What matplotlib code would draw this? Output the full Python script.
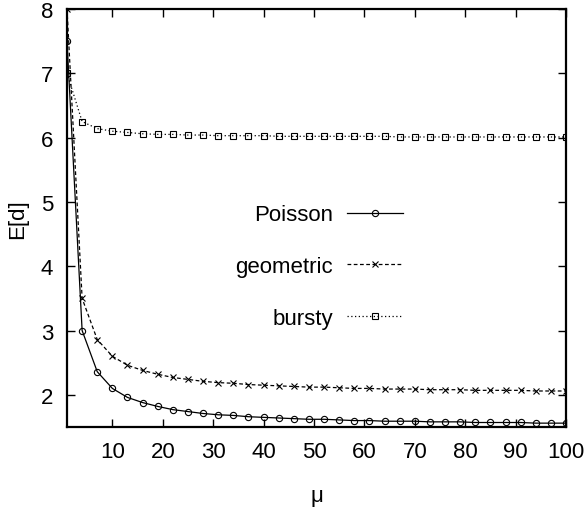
import matplotlib
matplotlib.use("Agg")
import matplotlib.pyplot as plt

plt.rcParams["font.family"] = ["Liberation Sans Narrow", "Liberation Sans", "DejaVu Sans"]

# mean load mu, sampled every 3 steps
mu = [1, 4, 7, 10, 13, 16, 19, 22, 25, 28, 31, 34, 37, 40, 43, 46, 49,
      52, 55, 58, 61, 64, 67, 70, 73, 76, 79, 82, 85, 88, 91, 94, 97, 100]

poisson = [7.50, 3.00, 2.36, 2.10, 1.96, 1.88, 1.82, 1.77, 1.74, 1.71, 1.69, 1.68,
           1.66, 1.65, 1.64, 1.63, 1.62, 1.62, 1.61, 1.60, 1.60, 1.59, 1.59, 1.59,
           1.58, 1.58, 1.58, 1.57, 1.57, 1.57, 1.57, 1.56, 1.56, 1.56]
geometric = [8.00, 3.50, 2.86, 2.60, 2.46, 2.38, 2.32, 2.27, 2.24, 2.21, 2.19, 2.18,
             2.16, 2.15, 2.14, 2.13, 2.12, 2.12, 2.11, 2.10, 2.10, 2.09, 2.09, 2.09,
             2.08, 2.08, 2.08, 2.07, 2.07, 2.07, 2.07, 2.06, 2.06, 2.06]
bursty = [7.00, 6.25, 6.14, 6.10, 6.08, 6.06, 6.05, 6.05, 6.04, 6.04, 6.03, 6.03,
          6.03, 6.03, 6.02, 6.02, 6.02, 6.02, 6.02, 6.02, 6.02, 6.02, 6.01, 6.01,
          6.01, 6.01, 6.01, 6.01, 6.01, 6.01, 6.01, 6.01, 6.01, 6.01]

xticks = [10, 20, 30, 40, 50, 60, 70, 80, 90, 100]
yticks = [2, 3, 4, 5, 6, 7, 8]

fs = 16

fig = plt.figure(figsize=(5.87, 5.10), dpi=100)
ax = fig.add_axes([67 / 587, 1 - 428 / 510, (566 - 67) / 587, (428 - 10) / 510])

ax.plot(mu, poisson, color="black", lw=0.9, ls="-", marker="o", ms=4.5,
        mfc="none", mew=0.8, label="Poisson")
ax.plot(mu, geometric, color="black", lw=0.9, ls=(0, (3, 2)), marker="x", ms=4.5,
        mew=0.8, label="geometric")
ax.plot(mu, bursty, color="black", lw=0.9, ls=(0, (1, 2)), marker="s", ms=4.5,
        mfc="none", mew=0.8, label="bursty")

ax.set_xlim(1, 100)
ax.set_ylim(1.5, 8)
ax.set_xticks(xticks)
ax.set_yticks(yticks)
ax.tick_params(direction="in", length=6, width=1, top=True, right=True,
               labelsize=fs, pad=10)
for s in ax.spines.values():
    s.set_linewidth(1.6)

ax.set_xlabel("μ", fontsize=fs, labelpad=17)
ax.set_ylabel("E[d]", fontsize=fs, labelpad=9)

ax.legend(loc="center", bbox_to_anchor=(0.505, 0.384), frameon=False,
          markerfirst=False, fontsize=fs, handlelength=2.5, handletextpad=0.63,
          labelspacing=1.38)

fig.savefig("out.png", dpi=100)
